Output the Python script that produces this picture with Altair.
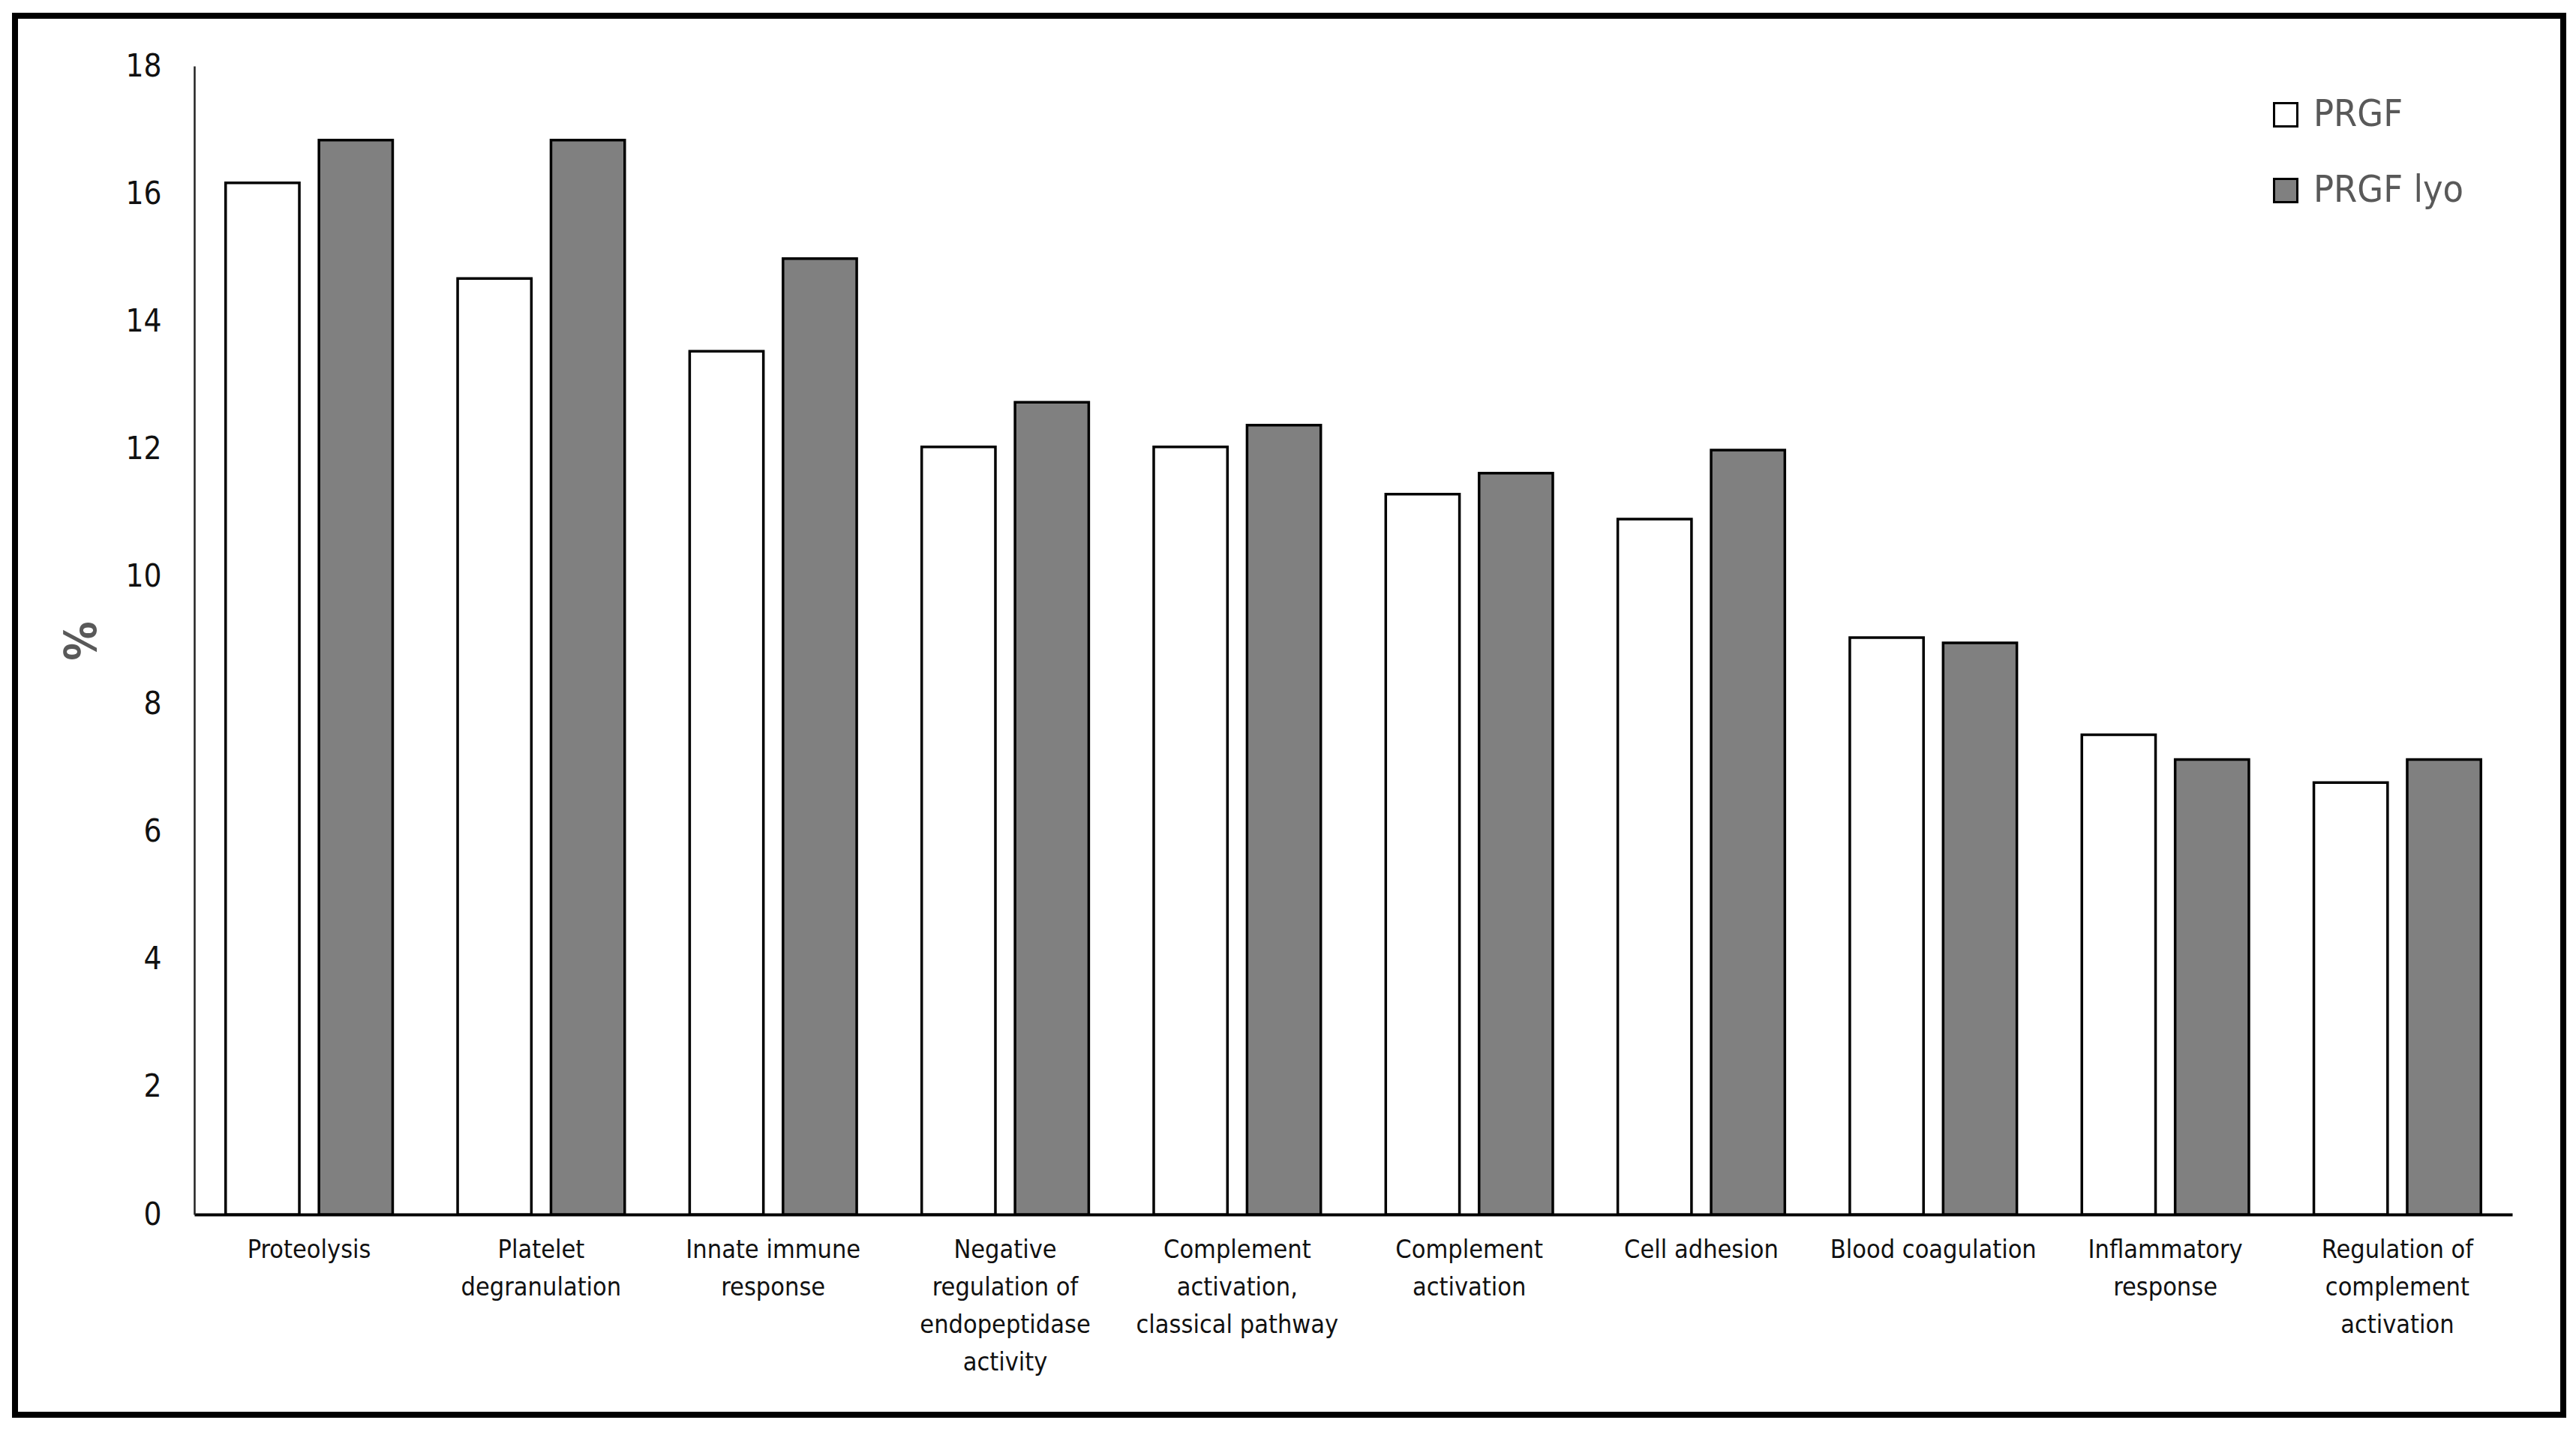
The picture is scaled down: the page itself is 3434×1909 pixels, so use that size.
import altair as alt
import pandas as pd

categories = [
    "Proteolysis",
    "Platelet degranulation",
    "Innate immune response",
    "Negative regulation of endopeptidase activity",
    "Complement activation, classical pathway",
    "Complement activation",
    "Cell adhesion",
    "Blood coagulation",
    "Inflammatory response",
    "Regulation of complement activation",
]
label_lines = [
    "Proteolysis",
    "Platelet\ndegranulation",
    "Innate immune\nresponse",
    "Negative\nregulation of\nendopeptidase\nactivity",
    "Complement\nactivation,\nclassical pathway",
    "Complement\nactivation",
    "Cell adhesion",
    "Blood coagulation",
    "Inflammatory\nresponse",
    "Regulation of\ncomplement\nactivation",
]
series = ["PRGF", "PRGF lyo"]
prgf = [16.17, 14.67, 13.53, 12.03, 12.03, 11.29, 10.90, 9.04, 7.52, 6.77]
prgf_lyo = [16.84, 16.84, 14.98, 12.73, 12.37, 11.62, 11.98, 8.96, 7.13, 7.13]
y_ticks = [0, 2, 4, 6, 8, 10, 12, 14, 16, 18]

rows = []
for i, c in enumerate(categories):
    rows.append({"cat": label_lines[i], "series": series[0], "value": prgf[i]})
    rows.append({"cat": label_lines[i], "series": series[1], "value": prgf_lyo[i]})
df = pd.DataFrame(rows)

FONT = "DejaVu Sans Condensed, Roboto, Noto Sans"
W, H = 3090, 1531

bars = alt.Chart(df).mark_bar(stroke="black", strokeWidth=3.5).encode(
    x=alt.X("cat:N", sort=label_lines,
            scale=alt.Scale(paddingInner=0.28, paddingOuter=0.135),
            axis=alt.Axis(title=None, labelAngle=0, ticks=False,
                          domainColor="black", domainWidth=4,
                          labelFont=FONT, labelFontSize=34, labelColor="#111111",
                          labelPadding=30, labelLineHeight=50, labelLimit=0,
                          labelExpr="split(datum.label, '\\n')",
                          labelBaseline="top")),
    xOffset=alt.XOffset("series:N", sort=series,
                        scale=alt.Scale(paddingInner=0.21, paddingOuter=0)),
    y=alt.Y("value:Q", scale=alt.Scale(domain=[0, 18], nice=False),
            axis=alt.Axis(values=y_ticks, ticks=False, grid=False,
                          domainColor="#222222", domainWidth=2.5,
                          labelFont=FONT, labelFontSize=42, labelColor="#111111",
                          labelPadding=44,
                          title="%", titleFont=FONT, titleFontSize=58,
                          titleColor="#595959", titleFontWeight="bold",
                          titleX=-120, titleY=766)),
    fill=alt.Fill("series:N", sort=series,
                  scale=alt.Scale(domain=series, range=["white", "#808080"]),
                  legend=alt.Legend(title=None, orient="none",
                                    legendX=2763, legendY=40,
                                    symbolType="square", symbolSize=960,
                                    symbolStrokeColor="black", symbolStrokeWidth=3,
                                    labelFont=FONT, labelFontSize=50, labelLimit=0,
                                    labelColor="#595959", labelOffset=12,
                                    rowPadding=51)),
)

frame = alt.Chart(pd.DataFrame({"a": [0]})).mark_rect(
    fill=None, stroke="black", strokeWidth=8
).encode(
    x=alt.value(-239), x2=alt.value(3158),
    y=alt.value(-67), y2=alt.value(1798),
)

chart = alt.layer(frame, bars).properties(
    width=W, height=H,
    background="white",
    autosize=alt.AutoSizeParams(type="none"),
    padding={"left": 251, "top": 80, "right": 77, "bottom": 282},
).configure_view(strokeWidth=0)

chart.save("out.html", embed_options={"renderer": "svg", "actions": False})
